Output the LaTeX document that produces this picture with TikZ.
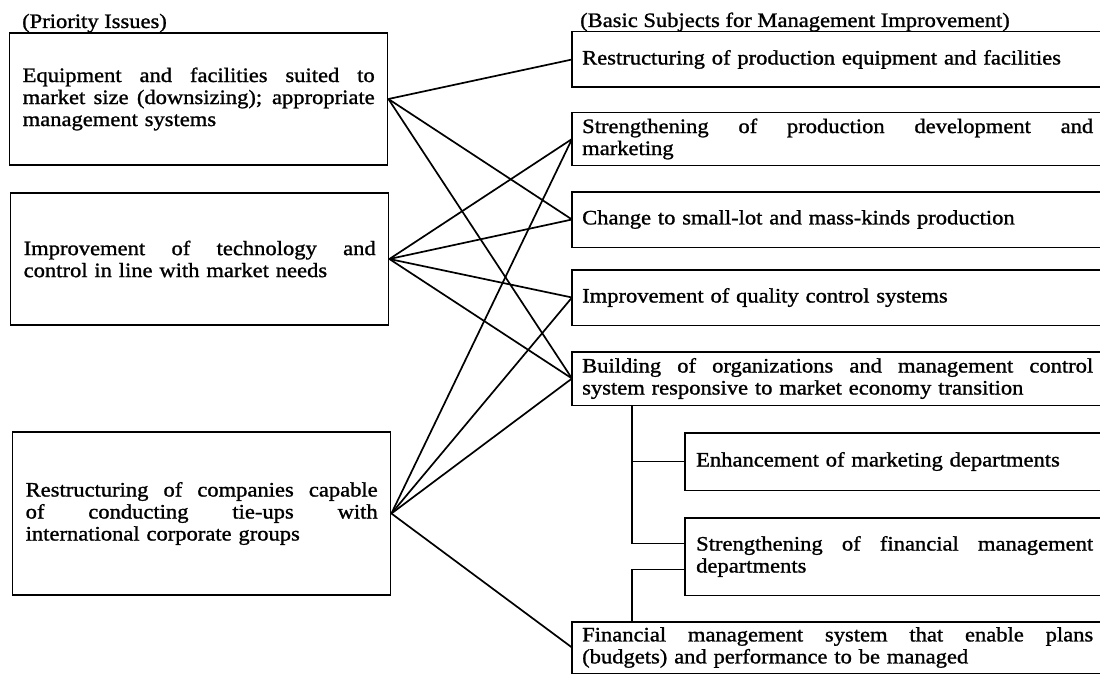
\documentclass[tikz,border=0pt]{standalone}
\usepackage{fontspec}
\setmainfont{Liberation Serif}[FakeStretch=1.1, FakeBold=1.2]
\newcommand\fs{\fontsize{20.5pt}{22pt}\selectfont}
% a line set flush to both margins
\newcommand\jline[2]{\leavevmode\hbox to #1{\spaceskip=0.25em plus 20em\relax #2}}
\tikzset{
  frame/.style={line width=1.4pt},
  link/.style={line width=1.7pt},
  tree/.style={line width=1.9pt},
  lbox/.style={draw, frame, rectangle, anchor=west, text width=352pt,
    inner xsep=13pt, inner ysep=0pt, align=left, font=\fs},
  rbox/.style={rectangle, anchor=west, text width=511pt,
    inner xsep=10pt, inner ysep=0pt, align=left, font=\fs},
  sbox/.style={rectangle, anchor=west, text width=397pt,
    inner xsep=11pt, inner ysep=0pt, align=left, font=\fs},
  head/.style={anchor=base west, inner sep=0pt, font=\fs},
}
% box closed on three sides, running out to the right margin
\newcommand\openbox[1]{\draw[frame] (#1.north west -| rim) -- (#1.north west)
  -- (#1.south west) -- (#1.south west -| rim);}
\begin{document}
\begin{tikzpicture}[x=1pt, y=-1pt]
\useasboundingbox (0,0) rectangle (1100,674);
\coordinate (rim) at (1100,0);

% headings
\node[head] (hl) at (22,28) {(Priority Issues)};
\node[head] (hr) at (580,27) {(Basic Subjects for Management Improvement)};

% priority issues
\node[lbox, minimum height=132pt] (L1) at (9,99)
  {\jline{352pt}{Equipment and facilities suited to}\\
   \jline{352pt}{market size (downsizing); appropriate}\\
   management systems};
\node[lbox, minimum height=132pt] (L2) at (10,259)
  {\jline{352pt}{Improvement of technology and}\\
   control in line with market needs};
\node[lbox, minimum height=163pt] (L3) at (12,513.5)
  {\jline{352pt}{Restructuring of companies capable}\\
   \jline{352pt}{of conducting tie-ups with}\\
   international corporate groups};

% basic subjects
\node[rbox, minimum height=55pt] (R1) at (572,59.5)
  {Restructuring of production equipment and facilities};
\node[rbox, minimum height=52pt] (R2) at (572,139)
  {\jline{511pt}{Strengthening of production development and}\\ marketing};
\node[rbox, minimum height=55pt] (R3) at (572,219.5)
  {Change to small-lot and mass-kinds production};
\node[rbox, minimum height=55pt] (R4) at (572,297.5)
  {Improvement of quality control systems};
\node[rbox, minimum height=53pt] (R5) at (572,378.5)
  {\jline{511pt}{Building of organizations and management control}\\
   system responsive to market economy transition};
\node[sbox, minimum height=57pt] (S1) at (685,461.5)
  {Enhancement of marketing departments};
\node[sbox, minimum height=77pt] (S2) at (685,556.5)
  {\jline{397pt}{Strengthening of financial management}\\ departments};
\node[rbox, minimum height=51pt] (R6) at (572,647.5)
  {\jline{511pt}{Financial management system that enable plans}\\
   (budgets) and performance to be managed};

\foreach \b in {R1,R2,R3,R4,R5,S1,S2,R6} {\openbox{\b}}

% links between issues and subjects
\draw[link] (L1.east) -- (R1.west);
\draw[link] (L1.east) -- (R3.west);
\draw[link] (L1.east) -- (R5.west);
\draw[link] (L2.east) -- (R2.west);
\draw[link] (L2.east) -- (R3.west);
\draw[link] (L2.east) -- (R4.west);
\draw[link] (L2.east) -- (R5.west);
\draw[link] (L3.east) -- (R2.west);
\draw[link] (L3.east) -- (R4.west);
\draw[link] (L3.east) -- (R5.west);
\draw[link] (L3.east) -- (R6.west);

% sub-items of the organisation subject
\coordinate (trunk) at (632,0);
\draw[tree] (trunk |- R5.south) -- ([yshift=13pt]trunk |- S2.west)
  -- ([yshift=13pt]S2.west);
\draw[link] (trunk |- S1.west) -- (S1.west);
\draw[tree] ([yshift=-13pt]S2.west) -- ([yshift=-13pt]trunk |- S2.west)
  -- (trunk |- R6.north);
\end{tikzpicture}
\end{document}
